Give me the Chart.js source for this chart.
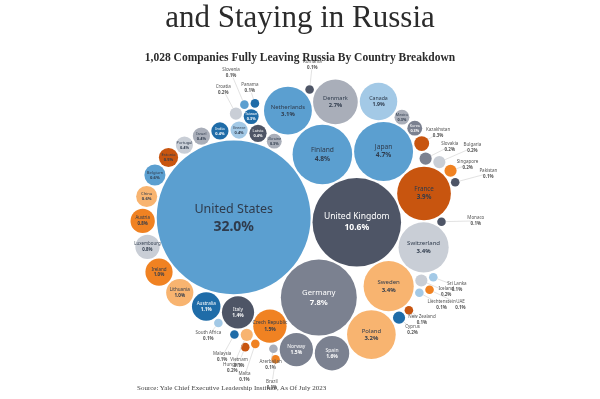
<!DOCTYPE html>
<html>
<head>
<meta charset="utf-8">
<script src="https://cdn.jsdelivr.net/npm/chart.js@4/dist/chart.umd.min.js"></script>
<style>
  body { margin: 0; background: #fff; }
  #wrap { position: relative; width: 600px; height: 399px; overflow: hidden; }
  #chart { position: absolute; left: 0; top: 0; }
  .txt { position: absolute; white-space: nowrap; font-family: "Liberation Serif", serif; color: #2b2b2b; }
  #title { left: 0; width: 600px; text-align: center; top: 1px; font-size: 31px; line-height: 31px; }
  #subtitle { left: 0; width: 600px; text-align: center; top: 51px; font-size: 11.5px; line-height: 13px; font-weight: bold; }
  #source { left: 137px; top: 385px; font-size: 7px; line-height: 7px; color: #444; }
</style>
</head>
<body>
<div id="wrap">
  <canvas id="chart" width="600" height="399"></canvas>
  <div class="txt" id="title">and Staying in Russia</div>
  <div class="txt" id="subtitle">1,028 Companies Fully Leaving Russia By Country Breakdown</div>
  <div class="txt" id="source">Source: Yale Chief Executive Leadership Institute, As Of July 2023</div>
</div>
<script>
const countries = [
  'United States', 'United Kingdom', 'Germany', 'Finland', 'Japan', 'France',
  'Switzerland', 'Sweden', 'Poland', 'Netherlands', 'Denmark', 'Canada',
  'Spain', 'Norway', 'Czech Republic', 'Italy', 'Australia', 'Lithuania',
  'Ireland', 'Luxembourg', 'Austria', 'Belgium', 'China', 'Estonia',
  'Portugal', 'Israel', 'India', 'Greece', 'Latvia', 'Ukraine', 'Taiwan',
  'Mexico', 'Korea', 'Kazakhstan', 'Slovakia', 'Bulgaria', 'Singapore',
  'Iceland', 'Hungary', 'Cyprus', 'Croatia', 'Pakistan', 'Azerbaijan',
  'Liechtenstein', 'Malta', 'New Zealand', 'Malaysia', 'Monaco',
  'South Africa', 'Romania', 'Slovenia', 'Panama', 'Sri Lanka', 'UAE',
  'Vietnam', 'Brazil'
]
const shares = [
  32.0, 10.6, 7.8, 4.8, 4.7, 3.9,
  3.4, 3.4, 3.2, 3.1, 2.7, 1.9,
  1.6, 1.5, 1.5, 1.4, 1.1, 1.0,
  1.0, 0.8, 0.8, 0.6, 0.6, 0.5,
  0.4, 0.4, 0.4, 0.4, 0.4, 0.3, 0.3,
  0.3, 0.3, 0.3, 0.2, 0.2, 0.2,
  0.2, 0.2, 0.2, 0.2, 0.1, 0.1,
  0.1, 0.1, 0.1, 0.1, 0.1,
  0.1, 0.1, 0.1, 0.1, 0.1, 0.1,
  0.1, 0.1
]

// order in which the bubbles are packed: a spiral for the first ones,
// then the rest are dropped into the outer gaps nearest the middle
const spiralOrder = [
  'United States', 'United Kingdom', 'Germany', 'Finland', 'Japan', 'France',
  'Switzerland', 'Sweden', 'Poland', 'Spain', 'Norway', 'Czech Republic',
  'Italy', 'Australia', 'Lithuania', 'Ireland', 'Luxembourg', 'Austria',
  'China', 'Belgium', 'Estonia', 'Portugal', 'Israel', 'India', 'Greece',
  'Latvia', 'Ukraine', 'Netherlands', 'Denmark', 'Canada', 'Mexico', 'Korea',
  'Kazakhstan', 'Slovakia', 'Bulgaria', 'Singapore', 'Pakistan'
]

// colours (Tableau-like palette)
const C = {
  blue: '#5b9fd0', dkblue: '#1f6ca8', ltblue: '#a3c9e6',
  slate: '#4e5566', gray: '#7b8190', gray2: '#a9aeb9', ltgray: '#c9ced6',
  dkorange: '#c8550f', orange: '#f08222', ltorange: '#f8b470'
}
const colorOf = {
  'United States': C.blue, 'United Kingdom': C.slate, 'Germany': C.gray,
  'Finland': C.blue, 'Japan': C.blue, 'France': C.dkorange,
  'Switzerland': C.ltgray, 'Sweden': C.ltorange, 'Poland': C.ltorange,
  'Netherlands': C.blue, 'Denmark': C.gray2, 'Canada': C.ltblue,
  'Spain': C.gray, 'Norway': C.gray, 'Czech Republic': C.orange,
  'Italy': C.slate, 'Australia': C.dkblue, 'Lithuania': C.ltorange,
  'Ireland': C.orange, 'Luxembourg': C.ltgray, 'Austria': C.orange,
  'Belgium': C.blue, 'China': C.ltorange, 'Estonia': C.dkorange,
  'Portugal': C.ltgray, 'Israel': C.gray2, 'India': C.dkblue,
  'Greece': C.ltblue, 'Latvia': C.slate, 'Ukraine': C.gray2,
  'Taiwan': C.dkblue, 'Mexico': C.gray2, 'Korea': C.gray,
  'Kazakhstan': C.dkorange, 'Slovakia': C.gray, 'Bulgaria': C.ltgray,
  'Singapore': C.orange, 'Iceland': C.ltgray, 'Hungary': C.ltorange,
  'Cyprus': C.dkblue, 'Croatia': C.ltgray, 'Pakistan': C.slate,
  'Azerbaijan': C.gray2, 'Liechtenstein': C.ltblue, 'Malta': C.orange,
  'New Zealand': C.dkorange, 'Malaysia': C.dkblue, 'Monaco': C.slate,
  'South Africa': C.ltblue, 'Romania': C.slate, 'Slovenia': C.blue,
  'Panama': C.dkblue, 'Sri Lanka': C.ltblue, 'UAE': C.orange,
  'Vietnam': C.dkorange, 'Brazil': C.orange
}
const darkFill = [C.slate, C.gray, C.dkblue]

const R_PER_SQRT = 13.6  // bubble radius (px) per sqrt(percent)
const GAP = 1
const ANCHOR_SHIFT = 14  // small bubbles gather a little right of the middle

// --- circle packing ---
function place(b, a, c) {
  const dx = b.x - a.x, dy = b.y - a.y, d2 = dx * dx + dy * dy
  if (d2) {
    let a2 = a.r + c.r, b2 = b.r + c.r, x, y
    a2 *= a2; b2 *= b2
    if (a2 > b2) {
      x = (d2 + b2 - a2) / (2 * d2)
      y = Math.sqrt(Math.max(0, b2 / d2 - x * x))
      c.x = b.x - x * dx - y * dy
      c.y = b.y - x * dy + y * dx
    } else {
      x = (d2 + a2 - b2) / (2 * d2)
      y = Math.sqrt(Math.max(0, a2 / d2 - x * x))
      c.x = a.x + x * dx - y * dy
      c.y = a.y + x * dy + y * dx
    }
  } else {
    c.x = a.x + c.r; c.y = a.y
  }
}
function intersects(a, b) {
  const dr = a.r + b.r - 1e-6, dx = b.x - a.x, dy = b.y - a.y
  return dr > 0 && dr * dr > dx * dx + dy * dy
}
const Node = (c) => ({ _: c, next: null, previous: null })

// front chain that keeps walking round in one direction; returns a chain node
function packSpiral(list) {
  const n = list.length
  let a = list[0], b, c
  a.x = 0; a.y = 0
  b = list[1]; a.x = -b.r; b.x = a.r; b.y = 0
  place(b, a, c = list[2])
  a = Node(a); b = Node(b); c = Node(c)
  a.next = c.previous = b
  b.next = a.previous = c
  c.next = b.previous = a
  pack: for (let i = 3; i < n; ++i) {
    place(a._, b._, c = list[i]); c = Node(c)
    let j = b.next, k = a.previous, sj = b._.r, sk = a._.r
    do {
      if (sj <= sk) {
        if (intersects(j._, c._)) { b = j; a.next = b; b.previous = a; --i; continue pack }
        sj += j._.r; j = j.next
      } else {
        if (intersects(k._, c._)) { a = k; a.next = b; b.previous = a; --i; continue pack }
        sk += k._.r; k = k.previous
      }
    } while (j !== k.next)
    c.previous = a; c.next = b; a.next = b.previous = c
    a = c
  }
  return a
}

// put a circle against the outer chain, in the free spot nearest (ax, ay)
function dropOnChain(start, placed, c, ax, ay) {
  let bestNode = null, bestD = Infinity, bx = 0, by = 0
  let node = start
  do {
    place(node._, node.next._, c)
    const dist = Math.hypot(c.x - ax, c.y - ay)
    if (dist < bestD && !placed.some((o) => intersects(o, c))) {
      bestD = dist; bestNode = node; bx = c.x; by = c.y
    }
    node = node.next
  } while (node !== start)
  c.x = bx; c.y = by
  placed.push(c)
  const nn = Node(c), nxt = bestNode.next
  nn.previous = bestNode; nn.next = nxt
  bestNode.next = nn; nxt.previous = nn
  return nn
}

const radii = shares.map((v) => R_PER_SQRT * Math.sqrt(v))
const circles = radii.map((r) => ({ r: r + GAP, x: 0, y: 0 }))
const byName = (name) => circles[countries.indexOf(name)]
const spiralList = spiralOrder.map(byName)
let chainNode = packSpiral(spiralList)

// anchor for the small ones, measured along the US -> UK axis
const us = circles[0], uk = circles[1], de = circles[2]
let bx0 = Infinity, bx1 = -Infinity, by0 = Infinity, by1 = -Infinity
spiralList.forEach((c) => {
  bx0 = Math.min(bx0, c.x - c.r); bx1 = Math.max(bx1, c.x + c.r)
  by0 = Math.min(by0, c.y - c.r); by1 = Math.max(by1, c.y + c.r)
})
const axLen = Math.hypot(uk.x - us.x, uk.y - us.y)
const ax = (bx0 + bx1) / 2 + ANCHOR_SHIFT * (uk.x - us.x) / axLen
const ay = (by0 + by1) / 2 + ANCHOR_SHIFT * (uk.y - us.y) / axLen
const placed = spiralList.slice()
countries.forEach((name, i) => {
  if (!spiralOrder.includes(name)) chainNode = dropOnChain(chainNode, placed, circles[i], ax, ay)
})

// orient: UK to the right of US, Germany below
const rot = 0.04 - Math.atan2(uk.y - us.y, uk.x - us.x)
circles.forEach((c) => {
  const x = c.x * Math.cos(rot) - c.y * Math.sin(rot)
  const y = c.x * Math.sin(rot) + c.y * Math.cos(rot)
  c.x = x; c.y = y
})
if (de.y < us.y) circles.forEach((c) => { c.y = -c.y })
let x0 = Infinity, x1 = -Infinity, y0 = Infinity, y1 = -Infinity
circles.forEach((c) => {
  x0 = Math.min(x0, c.x - c.r); x1 = Math.max(x1, c.x + c.r)
  y0 = Math.min(y0, c.y - c.r); y1 = Math.max(y1, c.y + c.r)
})
const CX = 295, CY = 225
const offX = CX - (x0 + x1) / 2, offY = CY - (y0 + y1) / 2
const points = circles.map((c, i) => ({ x: c.x + offX, y: c.y + offY, r: radii[i] }))

const labelPlugin = {
  id: 'bubbleLabels',
  afterDatasetsDraw(chart) {
    const ctx = chart.ctx
    const meta = chart.getDatasetMeta(0)
    ctx.save()
    ctx.textAlign = 'center'
    ctx.textBaseline = 'middle'
    let k = 0
    meta.data.forEach((el, i) => {
      const x = el.x, y = el.y, r = radii[i]
      const name = countries[i], pct = shares[i].toFixed(1) + '%'
      let fs = 2.8 + r * 0.13
      if (i === 0) fs = 12.5
      ctx.font = fs + 'px "Noto Sans", sans-serif'
      const inside = shares[i] > 0.2 && ctx.measureText(name).width < 2.6 * r
      if (inside) {
        const dark = darkFill.includes(colorOf[name])
        ctx.fillStyle = dark ? '#ffffff' : '#2f3b4c'
        ctx.fillText(name, x, y - fs * 0.62)
        ctx.font = 'bold ' + (i === 0 ? 14 : fs) + 'px "Noto Sans", sans-serif'
        ctx.fillText(pct, x, y + (i === 0 ? 9.5 : fs * 0.62))
      } else {
        let dx = x - CX, dy = y - CY
        const d = Math.hypot(dx, dy) || 1
        dx /= d; dy /= d
        const L = 12 + (k++ % 3) * 9
        const lx = x + dx * (r + L), ly = y + dy * (r + L)
        ctx.strokeStyle = '#cfcfcf'
        ctx.lineWidth = 0.6
        ctx.beginPath()
        ctx.moveTo(x + dx * r, y + dy * r)
        ctx.lineTo(lx - dx * 5, ly - dy * 5)
        ctx.stroke()
        ctx.fillStyle = '#555'
        ctx.font = '4.5px "Noto Sans", sans-serif'
        ctx.fillText(name, lx, ly - 3)
        ctx.font = 'bold 4.5px "Noto Sans", sans-serif'
        ctx.fillText(pct, lx, ly + 3)
      }
    })
    ctx.restore()
  }
}

new Chart(document.getElementById('chart'), {
  type: 'bubble',
  data: {
    datasets: [{
      data: points,
      backgroundColor: countries.map((c) => colorOf[c]),
      borderWidth: 0,
      hoverRadius: 0,
    }],
  },
  options: {
    responsive: false,
    animation: false,
    events: [],
    layout: { padding: 0, autoPadding: false },
    plugins: { legend: { display: false }, tooltip: { enabled: false } },
    scales: {
      x: { type: 'linear', min: 0, max: 600, display: false },
      y: { type: 'linear', min: 0, max: 399, reverse: true, display: false },
    },
  },
  plugins: [labelPlugin],
})
</script>
</body>
</html>
